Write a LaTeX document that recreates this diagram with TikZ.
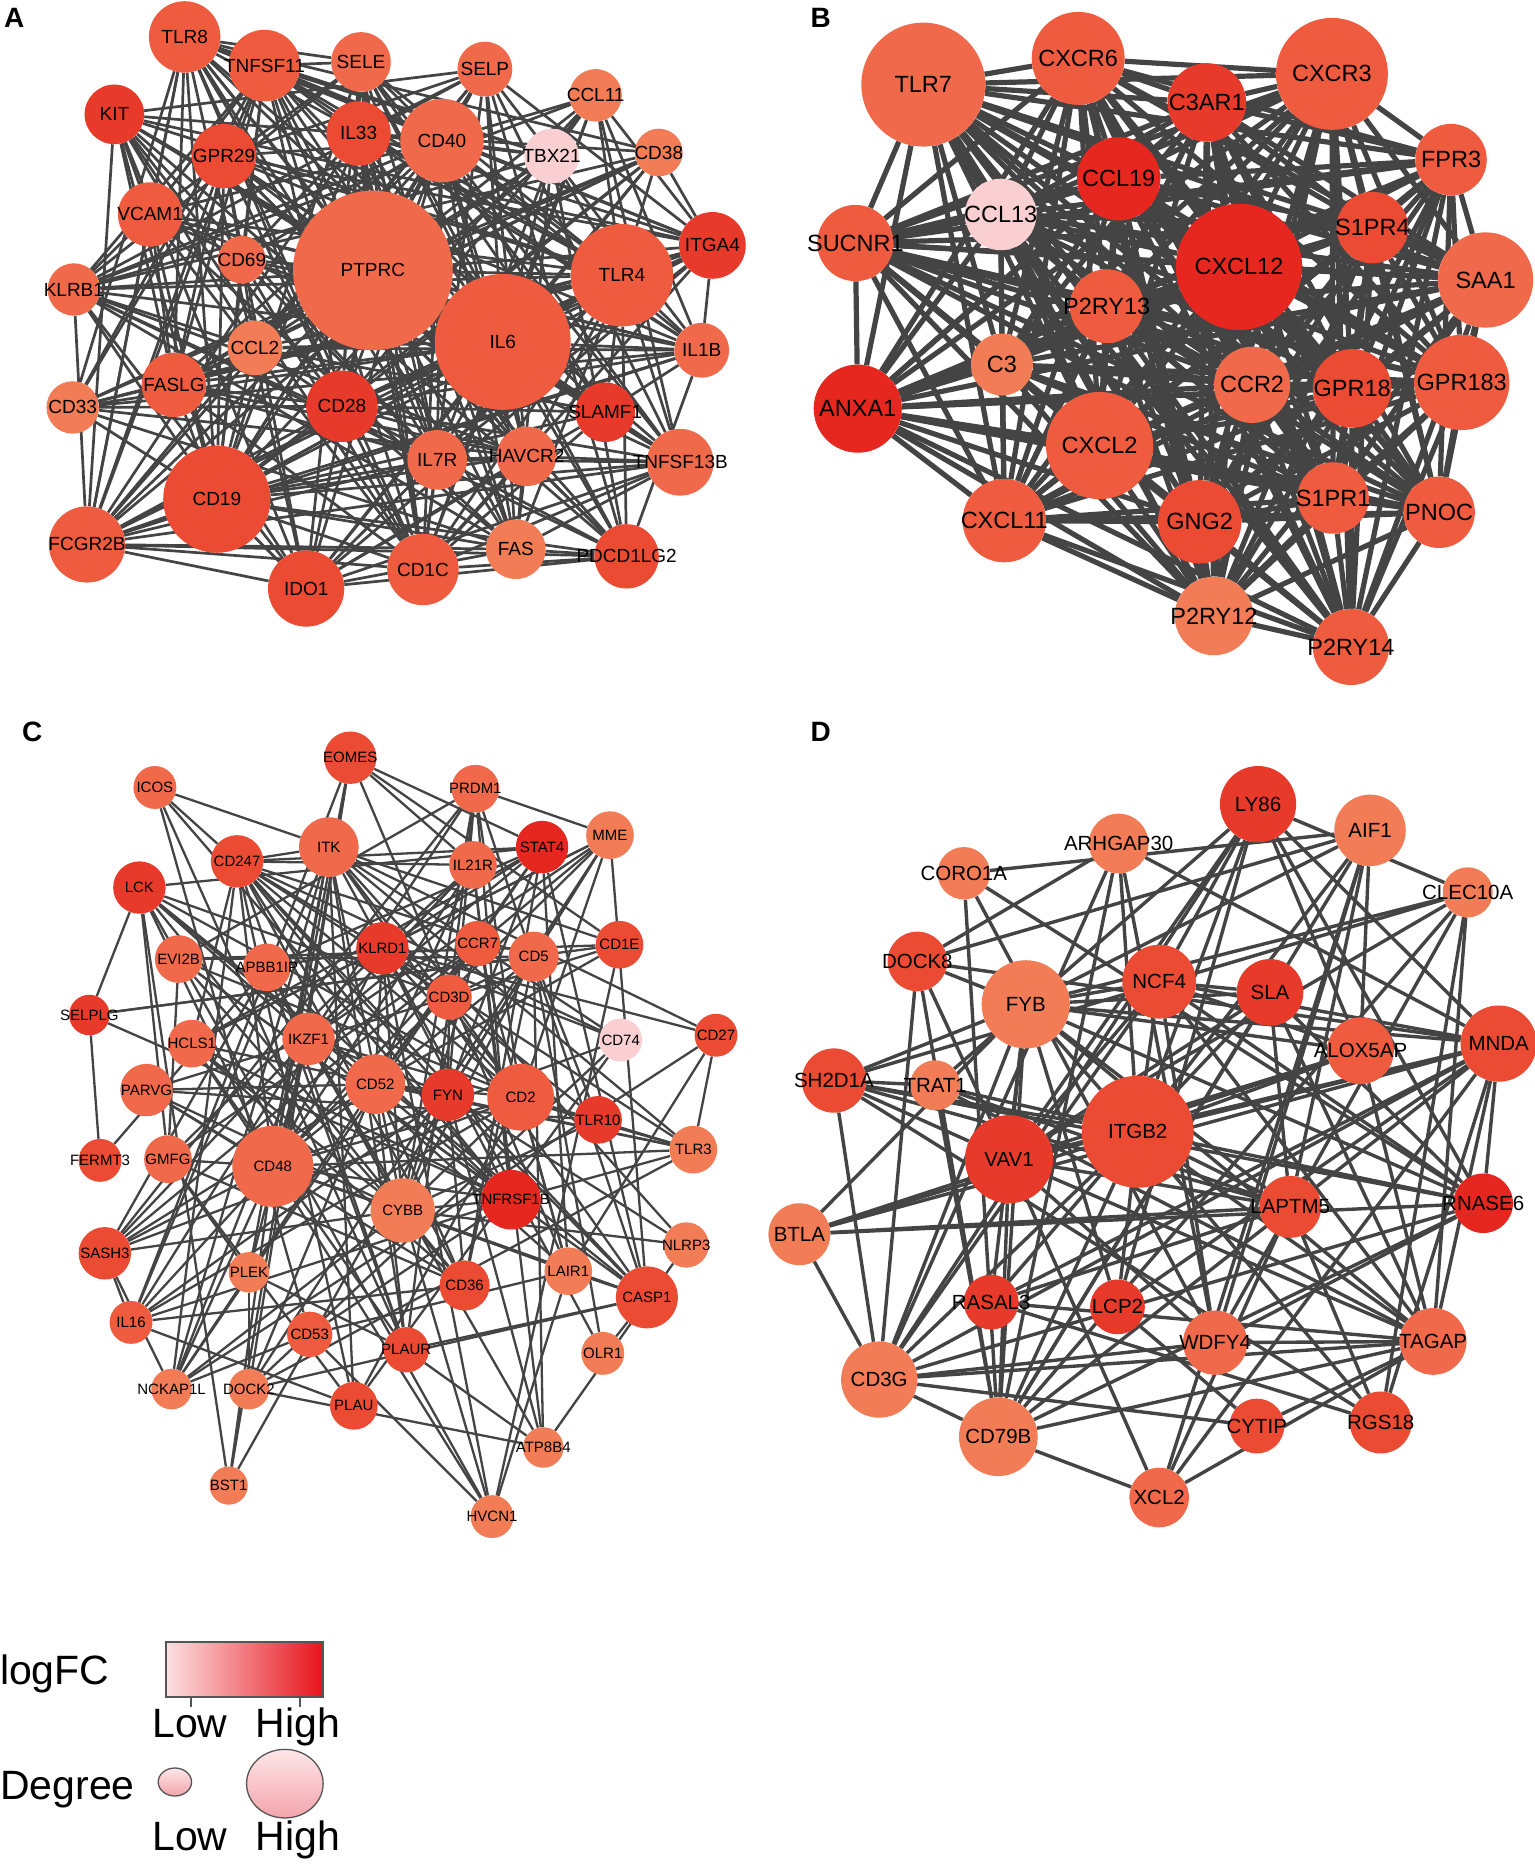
\documentclass[tikz,border=0pt]{standalone}
\usepackage{fontspec}
\setmainfont{Liberation Sans}
\usetikzlibrary{backgrounds,shapes.geometric}
\definecolor{c1}{HTML}{E5271F}
\definecolor{c2}{HTML}{E83A2A}
\definecolor{c3}{HTML}{EB4B33}
\definecolor{c4}{HTML}{EE5B3F}
\definecolor{c5}{HTML}{F0694A}
\definecolor{c6}{HTML}{F27C55}
\definecolor{cp}{HTML}{F9CFD2}
\definecolor{eg}{HTML}{444444}
\definecolor{legray}{HTML}{555555}
\definecolor{lgL}{HTML}{FBE0E1}
\definecolor{lgR}{HTML}{E8141C}
\definecolor{pkT}{HTML}{FDE6E8}
\definecolor{pkB}{HTML}{F3A4AC}
\newcommand\fA{\fontsize{19}{19}\selectfont}
\newcommand\fB{\fontsize{23.5}{23.5}\selectfont}
\newcommand\fC{\fontsize{15}{15}\selectfont}
\newcommand\fD{\fontsize{20.5}{20.5}\selectfont}
\newcommand\fL{\fontsize{41}{41}\selectfont}
\newcommand\fP{\fontsize{28}{28}\selectfont\bfseries}
\tikzset{
  gnode/.style={circle, draw=none, inner sep=0pt, minimum size={#1*2.3836pt}},
  glabel/.style={inner sep=0pt, text=black},
  edgeA/.style={draw=eg, line width=2.7pt},
  edgeB/.style={draw=eg, line width=5.2pt},
  edgeC/.style={draw=eg, line width=2.3pt},
  edgeD/.style={draw=eg, line width=3.4pt},
  plabel/.style={inner sep=0pt, font=\fP},
  legtext/.style={inner sep=0pt, font=\fL},
}
% #1 prefix, #2 n-1, #3 n, #4 K, #5 r0, #6 seed
\newcommand\netedges[6]{%
  \foreach \i in {1,...,#2}{%
    \pgfmathtruncatemacro\ip{\i+1}%
    \foreach \j in {\ip,...,#3}{%
      \edef\ha{\the\numexpr \i*\i*7+\j*\j*13+\i*\j*31+#6\relax}%
      \edef\hb{\the\numexpr \ha-101*((\ha-50)/101)\relax}%
      \ifnum\numexpr\hb*#4\relax<\numexpr(\csname r#1\i\endcsname-#5)*(\csname r#1\j\endcsname-#5)*101\relax
        \draw[edge#1] (#1\i) -- (#1\j);
      \fi
    }%
  }%
}
\begin{document}
\begin{tikzpicture}[x=1.1918pt, y=-1.1918pt]
\useasboundingbox (0,0) rectangle (1288,1568);
\begin{pgfonlayer}{background}\fill[white] (0,0) rectangle (1288,1568);\end{pgfonlayer}

\def\listA{1/TLR8/155/31/30/c4, 2/TNFSF11/222/55/30/c4, 3/SELE/303/52/25/c5, 4/SELP/407/58/23/c5,
5/CCL11/500/80/22/c6, 6/KIT/96/96/25/c2, 7/GPR29/188/131/27/c3, 8/IL33/301/112/27/c3,
9/CD40/371/118/35/c5, 10/TBX21/463/131/23/cp, 11/CD38/553/128/20/c6, 12/VCAM1/126/180/27/c4,
13/CD69/203/218/20/c5, 14/PTPRC/313/227/67/c5, 15/IL6/422/287/57/c4, 16/TLR4/522/231/43/c4,
17/ITGA4/598/206/28/c2, 18/KLRB1/62/243/22/c5, 19/CCL2/214/292/23/c6, 20/IL1B/589/294/23/c5,
21/FASLG/146/323/27/c4, 22/CD33/61/342/22/c6, 23/CD28/287/341/30/c2, 24/SLAMF1/508/346/25/c2,
25/IL7R/367/386/25/c5, 26/HAVCR2/442/383/25/c5, 27/TNFSF13B/571/388/28/c5, 28/CD19/182/419/45/c3,
29/FCGR2B/73/457/32/c4, 30/FAS/433/461/25/c6, 31/CD1C/355/478/30/c4, 32/PDCD1LG2/526/467/27/c3,
33/IDO1/257/494/32/c3}

\def\listB{1/TLR7/775/71/52/c5, 2/CXCR6/905/49/39/c4, 3/CXCR3/1118/62/47/c4, 4/C3AR1/1013/86/33/c2,
5/CCL19/939/150/35/c1, 6/CCL13/840/180/30/cp, 7/SUCNR1/718/204/32/c4, 8/FPR3/1218/134/30/c4,
9/S1PR4/1152/191/30/c3, 10/CXCL12/1040/224/53/c1, 11/SAA1/1247/235/40/c5, 12/P2RY13/929/257/31/c4,
13/C3/841/306/26/c6, 14/CCR2/1051/323/32/c5, 15/GPR18/1135/326/33/c3, 16/GPR183/1227/321/40/c4,
17/ANXA1/720/343/37/c1, 18/CXCL2/923/374/45/c4, 19/S1PR1/1119/418/30/c4, 20/PNOC/1208/430/30/c4,
21/CXCL11/843/437/35/c4, 22/GNG2/1007/438/35/c3, 23/P2RY12/1019/517/33/c6, 24/P2RY14/1134/543/32/c4}

\def\listC{1/EOMES/294/636/22/c3, 2/ICOS/130/661/18/c5, 3/PRDM1/399/662/20/c5, 4/ITK/276/711/25/c5,
5/STAT4/455/711/22/c1, 6/MME/512/701/20/c6, 7/CD247/199/723/22/c3, 8/IL21R/397/726/20/c5,
9/LCK/117/745/22/c2, 10/KLRD1/321/796/22/c2, 11/CCR7/401/792/19/c4, 12/CD5/448/803/21/c5,
13/CD1E/520/793/20/c3, 14/EVI2B/150/805/20/c5, 15/APBB1IP/224/812/20/c5, 16/CD3D/377/837/19/c4,
17/SELPLG/75/852/17/c2, 18/CD74/521/873/18/cp, 19/CD27/601/869/18/c3, 20/HCLS1/161/876/20/c5,
21/IKZF1/259/872/22/c5, 22/CD52/315/910/25/c5, 23/FYN/376/919/22/c2, 24/CD2/437/921/28/c4,
25/PARVG/123/915/22/c5, 26/TLR10/502/940/20/c2, 27/FERMT3/84/974/18/c3, 28/GMFG/141/973/20/c5,
29/CD48/229/979/34/c5, 30/TLR3/582/965/20/c6, 31/CYBB/338/1016/27/c6, 32/TNFRSF1B/429/1007/25/c1,
33/NLRP3/576/1045/19/c6, 34/SASH3/88/1052/22/c3, 35/PLEK/209/1068/17/c6, 36/LAIR1/477/1067/20/c6,
37/CASP1/543/1089/26/c3, 38/CD36/390/1079/21/c3, 39/IL16/110/1110/18/c4, 40/CD53/260/1120/19/c4,
41/PLAUR/341/1133/19/c3, 42/OLR1/506/1136/18/c6, 43/NCKAP1L/144/1166/17/c6, 44/DOCK2/209/1166/17/c6,
45/PLAU/297/1180/20/c3, 46/ATP8B4/456/1215/17/c6, 47/BST1/192/1247/16/c6, 48/HVCN1/413/1273/18/c6}

\def\listD{1/LY86/1056/675/32/c2, 2/AIF1/1150/697/30/c6, 3/ARHGAP30/939/708/25/c6, 4/CORO1A/809/733/22/c6,
5/CLEC10A/1232/749/21/c6, 6/DOCK8/770/807/25/c3, 7/FYB/861/843/37/c6, 8/NCF4/973/824/31/c3,
9/SLA/1066/833/28/c2, 10/MNDA/1258/876/32/c3, 11/ALOX5AP/1142/882/28/c4, 12/SH2D1A/700/907/27/c3,
13/TRAT1/785/911/21/c6, 14/ITGB2/955/950/47/c3, 15/VAV1/847/973/37/c2, 16/RNASE6/1245/1010/25/c1,
17/LAPTM5/1083/1013/26/c3, 18/BTLA/671/1036/26/c6, 19/RASAL3/832/1093/23/c2, 20/LCP2/938/1097/23/c2,
21/WDFY4/1020/1127/27/c5, 22/TAGAP/1203/1126/28/c5, 23/CD3G/738/1158/32/c6, 24/CD79B/838/1206/33/c6,
25/CYTIP/1055/1197/23/c3, 26/RGS18/1159/1194/26/c3, 27/XCL2/973/1257/25/c5}

% ---- circles
\foreach \k/\lab/\x/\y/\rad/\col in \listA {
  \node[gnode=\rad, fill=\col] (A\k) at (\x,\y) {};
  \expandafter\xdef\csname rA\k\endcsname{\rad}}
\foreach \k/\lab/\x/\y/\rad/\col in \listB {
  \node[gnode=\rad, fill=\col] (B\k) at (\x,\y) {};
  \expandafter\xdef\csname rB\k\endcsname{\rad}}
\foreach \k/\lab/\x/\y/\rad/\col in \listC {
  \node[gnode=\rad, fill=\col] (C\k) at (\x,\y) {};
  \expandafter\xdef\csname rC\k\endcsname{\rad}}
\foreach \k/\lab/\x/\y/\rad/\col in \listD {
  \node[gnode=\rad, fill=\col] (D\k) at (\x,\y) {};
  \expandafter\xdef\csname rD\k\endcsname{\rad}}

% ---- edges
\begin{pgfonlayer}{background}
\netedges{A}{32}{33}{520}{10}{17}
\netedges{B}{23}{24}{400}{10}{5}
\netedges{C}{47}{48}{350}{12}{29}
\netedges{D}{26}{27}{490}{14}{41}
\end{pgfonlayer}

% ---- labels
\foreach \k/\lab/\x/\y/\rad/\col in \listA {\node[glabel, font=\fA] (AL\k) at (\x,\y) {\lab};}
\foreach \k/\lab/\x/\y/\rad/\col in \listB {\node[glabel, font=\fB] (BL\k) at (\x,\y) {\lab};}
\foreach \k/\lab/\x/\y/\rad/\col in \listC {\node[glabel, font=\fC] (CL\k) at (\x,\y) {\lab};}
\foreach \k/\lab/\x/\y/\rad/\col in \listD {\node[glabel, font=\fD] (DL\k) at (\x,\y) {\lab};}

% ---- panel letters
\node[plabel] (pA) at (12,15) {A};
\node[plabel] (pB) at (689,15) {B};
\node[plabel] (pC) at (27,614) {C};
\node[plabel] (pD) at (689,614) {D};

% ---- legend
\node[legtext, anchor=base east] (tlog) at (92,1413.8) {logFC};
\node[draw=legray, line width=1.6pt, inner sep=0pt, minimum width={131.8*1.1918pt},
      minimum height={46.2*1.1918pt}, left color=lgL, right color=lgR] (lgbar) at (205,1401.4) {};
\coordinate (tk1) at (160,1432.5);
\coordinate (tk2) at (251.7,1432.5);
\draw[legray, line width=2pt] (lgbar.south -| tk1) -- (tk1);
\draw[legray, line width=2pt] (lgbar.south -| tk2) -- (tk2);
\node[legtext, anchor=base] (lo1) at (159.5,1458.4) {Low};
\node[legtext, anchor=base] (hi1) at (250,1458.4) {High};
\node[legtext, anchor=base east] (tdeg) at (113.3,1510.3) {Degree};
\node[ellipse, draw=legray, line width=1.3pt, inner sep=0pt, minimum width=33.4pt,
      minimum height=28pt, top color=pkT, bottom color=pkB] (dsm) at (146.8,1495.8) {};
\node[ellipse, draw=legray, line width=1.3pt, inner sep=0pt, minimum width=76.6pt,
      minimum height=68.6pt, top color=pkT, bottom color=pkB] (dbg) at (239.1,1497.2) {};
\node[legtext, anchor=base] (lo2) at (159.5,1553.7) {Low};
\node[legtext, anchor=base] (hi2) at (250,1553.7) {High};
\end{tikzpicture}
\end{document}
